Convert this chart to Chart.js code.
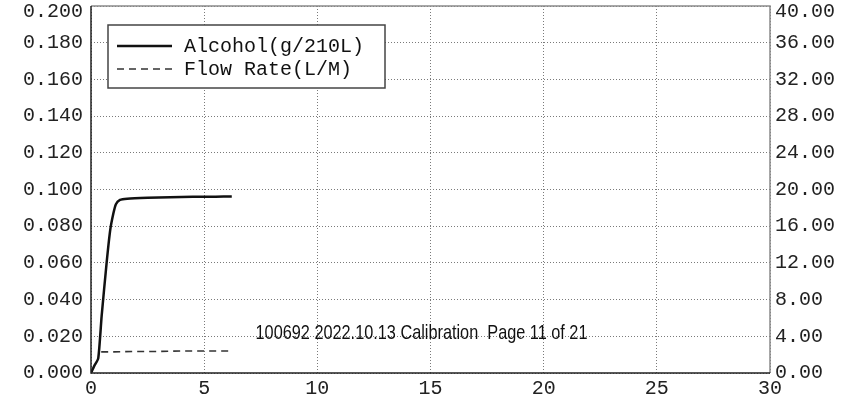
<!DOCTYPE html>
<html>
<head>
<meta charset="utf-8">
<script src="https://cdn.jsdelivr.net/npm/chart.js@4/dist/chart.umd.min.js"></script>
<style>
  html, body { margin: 0; padding: 0; background: #fff; }
  canvas { display: block; }
</style>
</head>
<body>
<canvas id="grafico" width="846" height="406"></canvas>
<script>
// time (x), alcohol (left axis), flow rate (right axis)
var alcoholTime = [0, 0.15, 0.32, 0.47, 0.69, 0.85, 0.99, 1.1, 1.28, 1.6, 2.5, 3.5, 4.5, 5.5, 6.22];
var alcoholValues = [0, 0.004, 0.008, 0.031, 0.060, 0.078, 0.087, 0.092, 0.0943, 0.095, 0.0955, 0.0958, 0.096, 0.0961, 0.0962];
var flowTime = [0.45, 1, 2, 3, 4, 5, 6.15];
var flowValues = [2.3, 2.3, 2.35, 2.35, 2.4, 2.4, 2.4];

var xTicks = [0, 5, 10, 15, 20, 25, 30];
var alcoholTicks = [0, 0.02, 0.04, 0.06, 0.08, 0.1, 0.12, 0.14, 0.16, 0.18, 0.2];
var flowTicks = [0, 4, 8, 12, 16, 20, 24, 28, 32, 36, 40];

var labels = ['Alcohol(g/210L)', 'Flow Rate(L/M)'];
var stampText = '100692 2022.10.13 Calibration  Page 11 of 21';

function pairs(xs, ys) {
    var out = [];
    for (var i = 0; i < xs.length; i++) out.push({x: xs[i], y: ys[i]});
    return out;
}

function noPad(s) {
    s.paddingTop = 0;
    s.paddingBottom = 0;
}

var monoFont = {family: "'Liberation Mono', 'Courier New', monospace", size: 20};

// keep the top tick labels of both y axes inside the canvas
var clampPlugin = {
    id: 'clampLabels',
    beforeDraw: function(chart) {
        ['y', 'y1'].forEach(function(id) {
            var items = chart.scales[id].getLabelItems();
            items.forEach(function(it) {
                var t = it.options.translation;
                if (t[1] < 12) t[1] = 12;
            });
        });
    }
};

var framePlugin = {
    id: 'frame',
    afterDraw: function(chart) {
        var ctx = chart.ctx;
        var a = chart.chartArea;
        ctx.save();
        // frame
        ctx.lineWidth = 1.5;
        ctx.strokeStyle = '#8a8a8a';
        ctx.beginPath();
        ctx.moveTo(a.left, a.top);
        ctx.lineTo(a.right, a.top);
        ctx.lineTo(a.right, a.bottom);
        ctx.stroke();
        ctx.strokeStyle = '#222';
        ctx.beginPath();
        ctx.moveTo(a.left, a.top);
        ctx.lineTo(a.left, a.bottom);
        ctx.lineTo(a.right, a.bottom);
        ctx.stroke();

        // legend box
        var bx = a.left + 17, by = a.top + 19, bw = 277, bh = 63;
        ctx.fillStyle = '#fff';
        ctx.fillRect(bx, by, bw, bh);
        ctx.strokeStyle = '#444';
        ctx.lineWidth = 1.5;
        ctx.strokeRect(bx, by, bw, bh);
        ctx.font = "20px 'Liberation Mono', 'Courier New', monospace";
        ctx.fillStyle = '#111';
        ctx.textBaseline = 'middle';
        chart.data.datasets.forEach(function(ds, i) {
            var ly = by + 21 + i * 23;
            ctx.strokeStyle = ds.borderColor;
            ctx.lineWidth = ds.borderWidth;
            ctx.setLineDash(ds.borderDash || []);
            ctx.beginPath();
            ctx.moveTo(bx + 9, ly);
            ctx.lineTo(bx + 64, ly);
            ctx.stroke();
            ctx.setLineDash([]);
            ctx.fillText(ds.label, bx + 76, ly + 1);
        });

        // stamp text
        ctx.font = "16.3px 'Liberation Sans', Arial, sans-serif";
        ctx.fillStyle = '#111';
        ctx.textAlign = 'center';
        ctx.textBaseline = 'alphabetic';
        ctx.translate((a.left + a.right) / 2 - 9, a.bottom - 34);
        ctx.scale(1, 1.2);
        ctx.fillText(stampText, 0, 0);
        ctx.restore();
    }
};

var chart = new Chart(document.getElementById('grafico'), {
    type: 'line',
    data: {
        datasets: [
            {
                label: labels[0],
                data: pairs(alcoholTime, alcoholValues),
                yAxisID: 'y',
                borderColor: '#111',
                borderWidth: 2.5,
                pointRadius: 0,
                tension: 0.2,
                fill: false
            },
            {
                label: labels[1],
                data: pairs(flowTime, flowValues),
                yAxisID: 'y1',
                borderColor: '#333',
                borderWidth: 1.6,
                borderDash: [7, 5],
                pointRadius: 0,
                fill: false
            }
        ]
    },
    options: {
        responsive: false,
        animation: false,
        layout: {padding: {top: 6, left: 0, right: 0, bottom: 0}},
        plugins: {legend: {display: false}, tooltip: {enabled: false}},
        scales: {
            x: {
                type: 'linear',
                min: 0,
                max: 30,
                afterBuildTicks: function(s) { s.ticks = xTicks.map(function(v) { return {value: v}; }); },
                afterFit: function(s) { s.height = 33; },
                border: {display: false, dash: [1, 2]},
                grid: {color: '#7a7a7a', lineWidth: 1, drawTicks: false},
                ticks: {font: monoFont, color: '#222', padding: 4, maxRotation: 0,
                    callback: function(v) { return String(v); }}
            },
            y: {
                position: 'left',
                min: 0,
                max: 0.2,
                afterBuildTicks: function(s) { s.ticks = alcoholTicks.map(function(v) { return {value: v}; }); },
                afterFit: function(s) { s.width = 91; noPad(s); },
                border: {display: false, dash: [1, 2]},
                grid: {color: '#7a7a7a', lineWidth: 1, drawTicks: false},
                ticks: {font: monoFont, color: '#222', padding: 8,
                    callback: function(v) { return v.toFixed(3); }}
            },
            y1: {
                position: 'right',
                min: 0,
                max: 40,
                afterBuildTicks: function(s) { s.ticks = flowTicks.map(function(v) { return {value: v}; }); },
                afterFit: function(s) { s.width = 76; noPad(s); },
                border: {display: false},
                grid: {drawOnChartArea: false, drawTicks: false},
                ticks: {font: monoFont, color: '#222', padding: 5,
                    callback: function(v) { return v.toFixed(2); }}
            }
        }
    },
    plugins: [clampPlugin, framePlugin]
});
</script>
</body>
</html>
